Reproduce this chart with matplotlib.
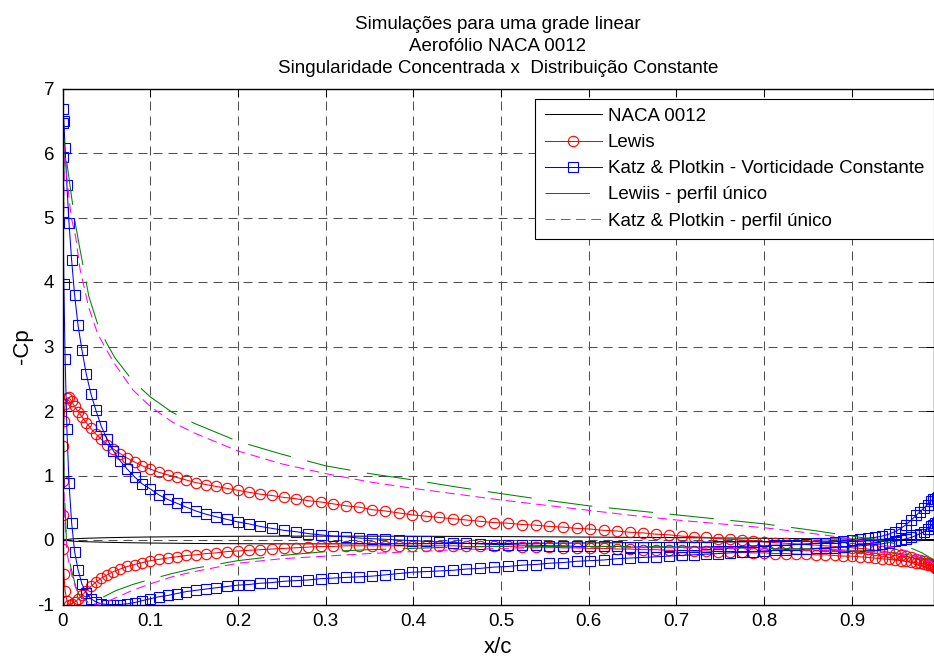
import matplotlib
matplotlib.use("Agg")
import numpy as np
import matplotlib.pyplot as plt

plt.rcParams['font.family'] = ['Liberation Sans', 'DejaVu Sans']
plt.rcParams['lines.scale_dashes'] = False

# ---------------------------------------------------------------
# Chordwise stations of the panel control points (x/c)
# ---------------------------------------------------------------
x_st = [0.0001, 0.0006, 0.0015, 0.0030, 0.0050, 0.0074, 0.0104, 0.0138, 0.0177, 0.0221,
        0.0270, 0.0323, 0.0381, 0.0443, 0.0510, 0.0581, 0.0657, 0.0737, 0.0821, 0.0909,
        0.1002, 0.1098, 0.1198, 0.1302, 0.1409, 0.1520, 0.1635, 0.1753, 0.1874, 0.1998,
        0.2125, 0.2255, 0.2387, 0.2523, 0.2660, 0.2800, 0.2942, 0.3087, 0.3233, 0.3380,
        0.3530, 0.3680, 0.3832, 0.3985, 0.4139, 0.4294, 0.4449, 0.4605, 0.4761, 0.4917,
        0.5083, 0.5239, 0.5395, 0.5551, 0.5706, 0.5861, 0.6015, 0.6168, 0.6320, 0.6470,
        0.6620, 0.6767, 0.6913, 0.7058, 0.7200, 0.7340, 0.7477, 0.7613, 0.7745, 0.7875,
        0.8002, 0.8126, 0.8247, 0.8365, 0.8480, 0.8591, 0.8698, 0.8802, 0.8902, 0.8998,
        0.9091, 0.9179, 0.9263, 0.9343, 0.9419, 0.9490, 0.9557, 0.9619, 0.9677, 0.9730,
        0.9779, 0.9823, 0.9862, 0.9896, 0.9926, 0.9950, 0.9970, 0.9985, 0.9994, 0.9999]

# Lewis (cascade), -Cp on upper and lower surfaces
lewis_up = [0.92, 1.45, 1.85, 2.11, 2.20, 2.21, 2.15, 2.07, 1.99, 1.91,
            1.82, 1.73, 1.64, 1.56, 1.48, 1.41, 1.34, 1.27, 1.21, 1.15,
            1.10, 1.05, 1.01, 0.97, 0.93, 0.89, 0.86, 0.83, 0.80, 0.77,
            0.74, 0.71, 0.69, 0.66, 0.64, 0.61, 0.59, 0.56, 0.53, 0.51,
            0.47, 0.45, 0.42, 0.39, 0.37, 0.35, 0.33, 0.31, 0.29, 0.27,
            0.26, 0.24, 0.23, 0.21, 0.20, 0.18, 0.17, 0.15, 0.14, 0.12,
            0.11, 0.09, 0.08, 0.06, 0.05, 0.04, 0.02, 0.01, 0.00, -0.01,
            -0.03, -0.04, -0.05, -0.06, -0.07, -0.08, -0.09, -0.10, -0.11, -0.12,
            -0.13, -0.14, -0.16, -0.17, -0.19, -0.21, -0.23, -0.25, -0.27, -0.29,
            -0.31, -0.33, -0.35, -0.37, -0.39, -0.41, -0.43, -0.45, -0.47, -0.48]
lewis_lo = [0.38, -0.14, -0.53, -0.79, -0.94, -1.00, -0.99, -0.96, -0.92, -0.86,
            -0.79, -0.72, -0.65, -0.59, -0.54, -0.49, -0.45, -0.41, -0.38, -0.35,
            -0.32, -0.30, -0.28, -0.26, -0.24, -0.23, -0.21, -0.20, -0.18, -0.17,
            -0.16, -0.15, -0.14, -0.13, -0.12, -0.11, -0.10, -0.10, -0.09, -0.09,
            -0.09, -0.09, -0.09, -0.09, -0.09, -0.09, -0.09, -0.10, -0.10, -0.10,
            -0.10, -0.11, -0.11, -0.11, -0.12, -0.12, -0.13, -0.13, -0.14, -0.14,
            -0.15, -0.15, -0.16, -0.16, -0.17, -0.17, -0.18, -0.18, -0.19, -0.20,
            -0.20, -0.21, -0.21, -0.22, -0.22, -0.23, -0.23, -0.24, -0.25, -0.25,
            -0.26, -0.27, -0.28, -0.29, -0.30, -0.31, -0.32, -0.33, -0.34, -0.35,
            -0.36, -0.37, -0.38, -0.39, -0.41, -0.43, -0.45, -0.46, -0.47, -0.48]

# Katz & Plotkin, constant-strength vortex panels (cascade)
katz_up = [6.47, 6.68, 6.50, 6.08, 5.50, 4.92, 4.34, 3.80, 3.33, 2.95,
           2.58, 2.27, 2.01, 1.76, 1.56, 1.38, 1.23, 1.10, 0.98, 0.87,
           0.79, 0.70, 0.63, 0.57, 0.51, 0.45, 0.40, 0.36, 0.32, 0.28,
           0.25, 0.21, 0.18, 0.15, 0.13, 0.10, 0.08, 0.06, 0.05, 0.03,
           0.02, 0.01, 0.00, -0.01, -0.02, -0.03, -0.04, -0.05, -0.06, -0.07,
           -0.07, -0.08, -0.08, -0.09, -0.09, -0.10, -0.10, -0.10, -0.10, -0.11,
           -0.11, -0.11, -0.11, -0.11, -0.11, -0.11, -0.10, -0.10, -0.10, -0.09,
           -0.09, -0.08, -0.08, -0.07, -0.06, -0.05, -0.04, -0.03, -0.01, 0.00,
           0.01, 0.03, 0.04, 0.06, 0.09, 0.13, 0.18, 0.24, 0.31, 0.38,
           0.44, 0.50, 0.55, 0.60, 0.63, 0.64, 0.65, 0.66, 0.66, 0.67]
katz_lo = [5.94, 5.09, 3.97, 2.81, 1.72, 0.89, 0.27, -0.18, -0.46, -0.68,
           -0.82, -0.91, -0.96, -0.99, -1.00, -1.00, -1.00, -0.99, -0.97, -0.94,
           -0.91, -0.88, -0.86, -0.83, -0.80, -0.78, -0.76, -0.74, -0.72, -0.70,
           -0.69, -0.67, -0.66, -0.64, -0.63, -0.62, -0.60, -0.59, -0.58, -0.57,
           -0.56, -0.54, -0.52, -0.50, -0.49, -0.48, -0.47, -0.45, -0.44, -0.42,
           -0.41, -0.39, -0.38, -0.36, -0.35, -0.33, -0.32, -0.31, -0.29, -0.28,
           -0.27, -0.26, -0.25, -0.24, -0.23, -0.22, -0.21, -0.20, -0.19, -0.18,
           -0.17, -0.16, -0.15, -0.14, -0.14, -0.13, -0.12, -0.12, -0.11, -0.10,
           -0.09, -0.08, -0.07, -0.06, -0.04, -0.02, 0.00, 0.02, 0.04, 0.07,
           0.10, 0.13, 0.17, 0.21, 0.24, 0.26, 0.27, 0.28, 0.29, 0.30]

# Isolated-airfoil solutions (single profile)
x_iso = [0.0, 0.002, 0.005, 0.01, 0.015, 0.02, 0.03, 0.04, 0.05, 0.06,
         0.08, 0.1, 0.125, 0.15, 0.2, 0.25, 0.3, 0.35, 0.4, 0.45,
         0.5, 0.55, 0.6, 0.65, 0.7, 0.75, 0.8, 0.85, 0.9, 0.93,
         0.95, 0.97, 0.98, 0.99, 1.0]
lewis_iso_up = [3.20, 6.20, 5.85, 5.35, 4.88, 4.50, 3.78, 3.35, 3.06, 2.82,
                2.47, 2.22, 1.98, 1.81, 1.53, 1.33, 1.15, 1.03, 0.93, 0.82,
                0.72, 0.62, 0.53, 0.46, 0.39, 0.32, 0.25, 0.16, 0.06, 0.00,
                -0.06, -0.14, -0.20, -0.28, -0.35]
lewis_iso_lo = [3.20, 0.80, -0.15, -0.45, -0.72, -0.88, -0.97, -0.93, -0.86, -0.79,
                -0.69, -0.61, -0.52, -0.44, -0.32, -0.24, -0.18, -0.15, -0.13, -0.11,
                -0.10, -0.10, -0.10, -0.10, -0.11, -0.12, -0.13, -0.14, -0.16, -0.18,
                -0.20, -0.24, -0.28, -0.32, -0.35]
katz_iso_up = [3.00, 6.10, 5.60, 5.00, 4.70, 4.20, 3.60, 3.20, 2.95, 2.72,
               2.33, 2.07, 1.83, 1.66, 1.38, 1.18, 1.03, 0.90, 0.80, 0.71,
               0.62, 0.54, 0.46, 0.38, 0.31, 0.25, 0.19, 0.11, 0.02, -0.06,
               -0.12, -0.20, -0.26, -0.33, -0.40]
katz_iso_lo = [3.00, 0.50, -0.20, -0.52, -0.74, -0.87, -0.98, -1.00, -0.96, -0.90,
               -0.78, -0.68, -0.57, -0.49, -0.36, -0.29, -0.25, -0.21, -0.18, -0.15,
               -0.13, -0.12, -0.12, -0.12, -0.12, -0.13, -0.14, -0.15, -0.17, -0.19,
               -0.21, -0.25, -0.29, -0.34, -0.40]

# NACA 0012 half-thickness (tabulated ordinates)
x_naca = [0.0, 0.0125, 0.025, 0.05, 0.075, 0.1, 0.15, 0.2, 0.25, 0.3,
          0.4, 0.5, 0.6, 0.7, 0.8, 0.9, 0.95, 1.0]
y_naca = [0.0, 0.01894, 0.02615, 0.03555, 0.04200, 0.04683, 0.05345, 0.05737,
          0.05941, 0.06002, 0.05803, 0.05294, 0.04563, 0.03664, 0.02623,
          0.01448, 0.00807, 0.00126]

x_ticks = [0, 0.1, 0.2, 0.3, 0.4, 0.5, 0.6, 0.7, 0.8, 0.9]
x_tick_labels = ['0', '0.1', '0.2', '0.3', '0.4', '0.5', '0.6', '0.7', '0.8', '0.9']
y_ticks = [-1, 0, 1, 2, 3, 4, 5, 6, 7]
y_tick_labels = ['-1', '0', '1', '2', '3', '4', '5', '6', '7']

labels = ['NACA 0012', 'Lewis', 'Katz & Plotkin - Vorticidade Constante',
          'Lewiis - perfil único', 'Katz & Plotkin - perfil único']
title_lines = ['Simulações para uma grade linear', 'Aerofólio NACA 0012',
               'Singularidade Concentrada x  Distribuição Constante']


def closed(x, up, lo):
    """Walk lower surface from trailing edge to leading edge, then upper back."""
    x = np.asarray(x)
    xx = np.concatenate([x[::-1], x])
    yy = np.concatenate([np.asarray(lo)[::-1], np.asarray(up)])
    return xx, yy


W, H = 934, 657
fig = plt.figure(figsize=(W / 100, H / 100), dpi=100)
ax = fig.add_axes([62.5 / W, 1 - 604.5 / H, (933.5 - 62.5) / W, (604.5 - 88.5) / H])

lw = 0.75
xn, yn = closed(x_naca, y_naca, [-v for v in y_naca])
ax.plot(xn, yn, color='k', lw=lw, label=labels[0])

xl, yl = closed(x_st, lewis_up, lewis_lo)
ax.plot(xl, yl, color='r', lw=lw, marker='o', ms=7.5, mfc='none', mew=0.8,
        label=labels[1])

xk, yk = closed(x_st, katz_up, katz_lo)
ax.plot(xk, yk, color='b', lw=lw, marker='s', ms=7.5, mfc='none', mew=0.8,
        label=labels[2])

xi, yi = closed(x_iso, lewis_iso_up, lewis_iso_lo)
ax.plot(xi, yi, color=(0, 0.5, 0), lw=lw, dashes=(32, 12), label=labels[3])

xj, yj = closed(x_iso, katz_iso_up, katz_iso_lo)
ax.plot(xj, yj, color=(1, 0, 1), lw=lw, dashes=(7, 4), label=labels[4])

ax.set_xlim(0, 0.993)
ax.set_ylim(-1, 7)
ax.set_xticks(x_ticks)
ax.set_xticklabels(x_tick_labels)
ax.set_yticks(y_ticks)
ax.set_yticklabels(y_tick_labels)
ax.tick_params(direction='in', length=6, width=0.75, top=True, right=True,
               labelsize=13.5, pad=6, colors='k')
ax.grid(True, color='#505050', lw=0.75, dashes=(6.5, 4.3))
ax.set_axisbelow(True)
for s in ax.spines.values():
    s.set_linewidth(1.0)
    s.set_color('k')

ax.set_xlabel('x/c', fontsize=16, labelpad=5)
ax.set_ylabel('-Cp', fontsize=16, labelpad=3)
ax.set_title('\n'.join(title_lines), fontsize=13.5, pad=11, linespacing=1.38)

leg = ax.legend(loc='upper right', bbox_to_anchor=(1.0, 1 - 10 / 516),
                borderaxespad=0, fontsize=13.5, frameon=True, fancybox=False,
                framealpha=1, edgecolor='k', handlelength=3.04,
                handletextpad=0.32, labelspacing=0.48, borderpad=0.5)
leg.get_frame().set_linewidth(0.8)

fig.savefig('out.png', dpi=100)
